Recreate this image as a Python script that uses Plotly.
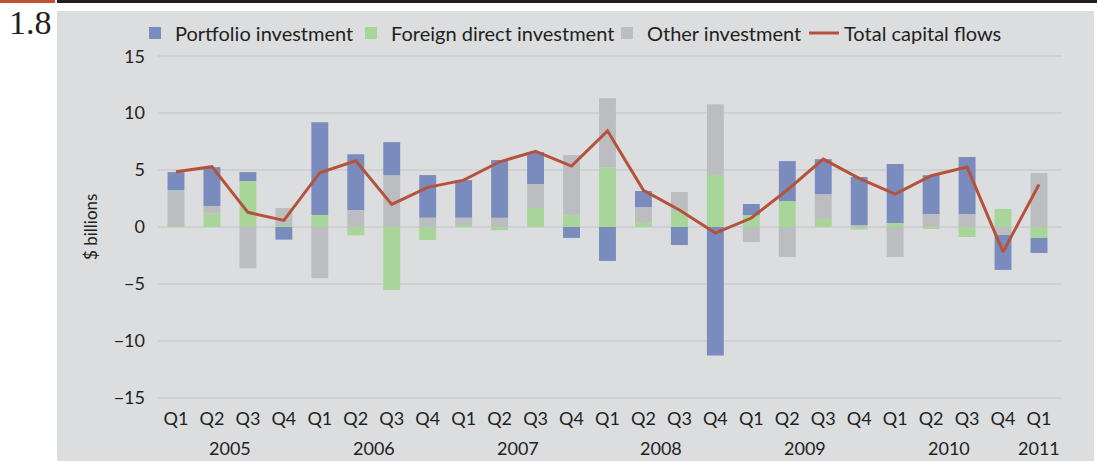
import plotly.graph_objects as go

years = ["2005"] * 4 + ["2006"] * 4 + ["2007"] * 4 + ["2008"] * 4 + ["2009"] * 4 + ["2010"] * 4 + ["2011"]
quarters = ["Q1", "Q2", "Q3", "Q4"] * 6 + ["Q1"]

portfolio = [1.57, 3.42, 0.78, -1.11, 8.16, 4.91, 2.90, 3.74, 3.30, 5.06, 2.81, -0.96,
             -2.98, 1.41, -1.58, -11.29, 0.97, 3.51, 3.07, 4.22, 5.18, 3.42, 5.00, -3.07, -1.32]
fdi = [0.12, 1.20, 4.04, 0.15, 1.05, -0.73, -5.53, -1.14, 0.17, -0.29, 1.67, 1.05,
       5.26, 0.44, 1.40, 4.56, 1.05, 2.28, 0.70, -0.23, 0.35, -0.12, -0.88, 1.58, -0.96]
other = [3.13, 0.64, -3.63, 1.52, -4.50, 1.49, 4.56, 0.82, 0.65, 0.82, 2.10, 5.27,
         6.06, 1.31, 1.67, 6.23, -1.32, -2.63, 2.19, 0.17, -2.63, 1.14, 1.14, -0.70, 4.74]
total = [4.85, 5.30, 1.29, 0.58, 4.77, 5.82, 1.99, 3.48, 4.12, 5.73, 6.64, 5.35,
         8.45, 3.22, 1.49, -0.53, 0.79, 3.25, 5.96, 4.27, 2.89, 4.50, 5.26, -2.19, 3.74]
y_ticks = [-15, -10, -5, 0, 5, 10, 15]
y_tick_labels = ["\u221215", "\u221210", "\u22125", "0", "5", "10", "15"]

W, H = 1097, 461
L, R, T, B = 158, 35, 54, 61
PW, PH = W - L - R, H - T - B


def px(x):
    return (x - L) / PW


def py(y):
    return (H - B - y) / PH


TEXT = "#231F20"
FONT = "Lato"
cats = [f"{y} {q}" for y, q in zip(years, quarters)]

fig = go.Figure()
fig.add_trace(go.Bar(x=cats, y=fdi, name="Foreign direct investment", marker_color="#A8D59A",
                     marker_line_width=0, legend="legend2"))
fig.add_trace(go.Bar(x=cats, y=other, name="Other investment", marker_color="#BCBDC0",
                     marker_line_width=0, legend="legend3"))
fig.add_trace(go.Bar(x=cats, y=portfolio, name="Portfolio investment", marker_color="#7A8BBD",
                     marker_line_width=0, legend="legend"))
fig.add_trace(go.Scatter(x=cats, y=total, name="Total capital flows", mode="lines",
                         line=dict(color="#B5523B", width=3), legend="legend4"))

# year labels centred under each year's quarters
year_annotations = []
for yr in dict.fromkeys(years):
    idx = [i for i, v in enumerate(years) if v == yr]
    year_annotations.append(dict(
        text=yr, xref="x", yref="paper", x=sum(idx) / len(idx), y=py(448),
        xanchor="center", yanchor="middle", showarrow=False,
        font=dict(family=FONT, size=18, color=TEXT)))


def legend_at(xpix):
    return dict(orientation="h", x=px(xpix), xanchor="left", y=py(33), yanchor="middle",
                bgcolor="rgba(0,0,0,0)", font=dict(size=20, color=TEXT), itemwidth=30)


fig.update_layout(
    width=W, height=H,
    margin=dict(l=L, r=R, t=T, b=B, autoexpand=False),
    barmode="relative",
    bargap=0.53,
    paper_bgcolor="#DCDDDF",
    plot_bgcolor="#DCDDDF",
    font=dict(family=FONT, color=TEXT, size=18),
    showlegend=True,
    legend=legend_at(135),
    legend2=legend_at(351),
    legend3=legend_at(607),
    legend4=legend_at(804),
    shapes=[
        dict(type="rect", xref="paper", yref="paper", x0=px(-5), x1=px(57), y0=py(-5), y1=py(466),
             fillcolor="white", line_width=0, layer="below"),
        dict(type="rect", xref="paper", yref="paper", x0=px(-5), x1=px(1102), y0=py(-5), y1=py(11),
             fillcolor="white", line_width=0, layer="below"),
        dict(type="rect", xref="paper", yref="paper", x0=px(1094), x1=px(1102), y0=py(-5), y1=py(466),
             fillcolor="white", line_width=0, layer="below"),
        dict(type="rect", xref="paper", yref="paper", x0=px(57), x1=px(1102), y0=py(-5), y1=py(3),
             fillcolor="#231F20", line_width=0, layer="above"),
        dict(type="rect", xref="paper", yref="paper", x0=px(-5), x1=px(55), y0=py(-5), y1=py(3),
             fillcolor="#C0523A", line_width=0, layer="above"),
    ],
    annotations=[
        dict(text="1.8", xref="paper", yref="paper", x=px(7), y=py(2), xanchor="left", yanchor="top",
             showarrow=False, font=dict(family="Liberation Serif", size=34, color=TEXT)),
        dict(text="$ billions", xref="paper", yref="paper", x=px(90), y=py(227), textangle=-90,
             xanchor="center", yanchor="middle", showarrow=False,
             font=dict(family=FONT, size=17, color=TEXT)),
    ] + year_annotations,
)

fig.update_xaxes(
    type="category",
    tickvals=cats, ticktext=quarters,
    showgrid=False, showline=False, zeroline=False, ticks="",
    tickfont=dict(size=18, color=TEXT),
    ticklabelstandoff=6,
)
fig.update_yaxes(
    range=[-15.2, 15.2],
    tickvals=y_ticks, ticktext=y_tick_labels,
    showgrid=True, gridcolor="#CFD0D2", gridwidth=2,
    zeroline=True, zerolinecolor="#CFD0D2", zerolinewidth=2,
    showline=False, ticks="",
    tickfont=dict(size=18, color=TEXT),
    ticklabelstandoff=12,
)

fig.write_html(
    "out.html",
    config={"displayModeBar": False},
    post_script="document.body.style.margin='0';document.body.style.overflow='hidden';"
                "document.documentElement.style.overflow='hidden';",
)
